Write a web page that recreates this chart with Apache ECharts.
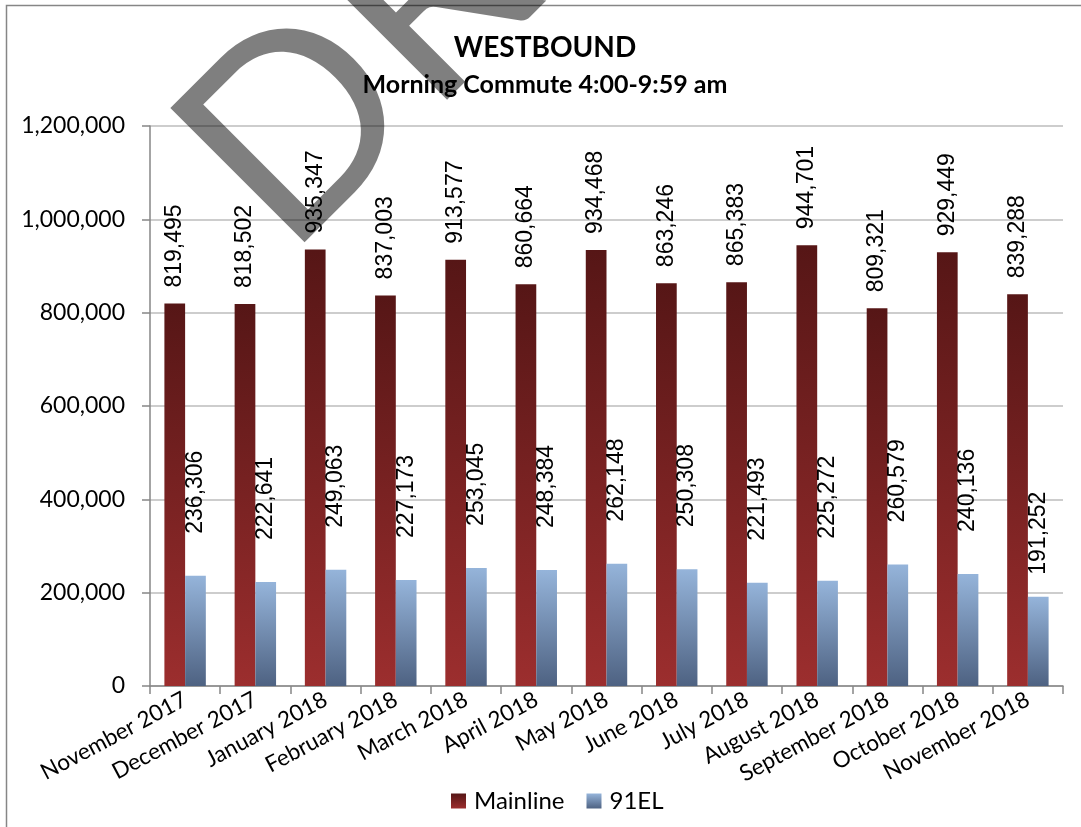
<!DOCTYPE html>
<html>
<head>
<meta charset="utf-8">
<script src="https://cdn.jsdelivr.net/npm/echarts@6/dist/echarts.min.js"></script>
<style>
  html, body { margin: 0; padding: 0; background: #fff; }
  #chart { width: 1081px; height: 827px; }
</style>
</head>
<body>
<div id="chart"></div>
<script>
// Monthly westbound morning commute volumes (4:00-9:59 am)
const months = [
  'November 2017', 'December 2017', 'January 2018', 'February 2018',
  'March 2018', 'April 2018', 'May 2018', 'June 2018', 'July 2018',
  'August 2018', 'September 2018', 'October 2018', 'November 2018'
];
const mainline = [
  819495, 818502, 935347, 837003, 913577, 860664, 934468,
  863246, 865383, 944701, 809321, 929449, 839288
];
const el91 = [
  236306, 222641, 249063, 227173, 253045, 248384, 262148,
  250308, 221493, 225272, 260579, 240136, 191252
];
const yMin = 0;
const yMax = 1200000;
const yStep = 200000;

const AXIS_GRAY = '#868686';
const FONT = 'Lato, "Open Sans", sans-serif';
const LABEL_FONT = '"Liberation Sans", Arial, sans-serif';
const fmt = v => v.toLocaleString('en-US');

const mainlineFill = new echarts.graphic.LinearGradient(0, 0, 0, 1, [
  { offset: 0, color: '#561616' },
  { offset: 1, color: '#9c2e2e' }
]);
const elFill = new echarts.graphic.LinearGradient(0, 0, 0, 1, [
  { offset: 0, color: '#95b4da' },
  { offset: 1, color: '#4e6282' }
]);

const valueLabel = {
  show: true,
  position: 'top',
  rotate: 90,
  align: 'left',
  verticalAlign: 'middle',
  fontFamily: LABEL_FONT,
  fontSize: 23,
  color: '#000',
  formatter: p => fmt(p.value)
};

// 91EL labels sit to the right of their bar, except the last one at the plot edge
const elData = el91.map((v, i) => ({
  value: v,
  label: { offset: i === el91.length - 1 ? [0, 0] : [20, 0] }
}));

const chart = echarts.init(document.getElementById('chart'), null, { renderer: 'canvas' });

chart.setOption({
  animation: false,
  backgroundColor: '#fff',
  grid: { left: 150, right: 18, top: 126, bottom: 141, containLabel: false },
  xAxis: {
    type: 'category',
    data: months,
    boundaryGap: true,
    axisLine: { lineStyle: { color: AXIS_GRAY, width: 1.5 } },
    axisTick: { show: true, interval: 0, length: 8, lineStyle: { color: AXIS_GRAY, width: 1.5 } },
    axisLabel: {
      interval: 0,
      rotate: 28,
      margin: 12,
      fontFamily: FONT,
      fontSize: 22.5,
      color: '#000'
    }
  },
  yAxis: {
    type: 'value',
    min: yMin,
    max: yMax,
    interval: yStep,
    axisLine: { show: true, lineStyle: { color: AXIS_GRAY, width: 1.5 } },
    axisTick: { show: true, length: 8, lineStyle: { color: AXIS_GRAY, width: 1.5 } },
    axisLabel: {
      margin: 25,
      fontFamily: FONT,
      fontSize: 23,
      color: '#000',
      formatter: v => fmt(v)
    },
    splitLine: { lineStyle: { color: '#bdbdbd', width: 1.5 } }
  },
  legend: {
    left: 446,
    top: 784,
    itemWidth: 15,
    itemHeight: 15,
    itemGap: 22,
    icon: 'rect',
    textStyle: { fontFamily: FONT, fontSize: 24, color: '#000', padding: [0, 0, 0, 3] },
    data: ['Mainline', '91EL']
  },
  series: [
    {
      name: 'Mainline',
      type: 'bar',
      data: mainline,
      barGap: '0%',
      barCategoryGap: '41%',
      itemStyle: { color: mainlineFill },
      label: Object.assign({}, valueLabel, { distance: 16 })
    },
    {
      name: '91EL',
      type: 'bar',
      data: elData,
      itemStyle: { color: elFill },
      label: Object.assign({}, valueLabel, { distance: 22 })
    }
  ],
  graphic: [
    // chart frame
    {
      type: 'rect',
      shape: { x: 6.5, y: 5.5, width: 1200, height: 900 },
      style: { fill: 'none', stroke: AXIS_GRAY, lineWidth: 1.5 },
      silent: true,
      z: 0
    },
    {
      type: 'text',
      x: 545,
      y: 48,
      style: {
        text: 'WESTBOUND',
        fontFamily: FONT,
        fontWeight: 'bold',
        fontSize: 28,
        fill: '#000',
        align: 'center',
        verticalAlign: 'middle'
      },
      z: 10
    },
    {
      type: 'text',
      x: 545,
      y: 85,
      style: {
        text: 'Morning Commute 4:00-9:59 am',
        fontFamily: FONT,
        fontWeight: 'bold',
        fontSize: 25,
        fill: '#000',
        align: 'center',
        verticalAlign: 'middle'
      },
      z: 10
    },
    // diagonal watermark
    {
      type: 'text',
      x: 227,
      y: 199,
      rotation: Math.PI / 4,
      style: {
        text: 'DRAFT',
        fontFamily: FONT,
        fontSize: 265,
        fill: 'rgba(0,0,0,0.5)',
        align: 'left',
        verticalAlign: 'middle'
      },
      silent: true,
      z: 5
    }
  ]
});
</script>
</body>
</html>
